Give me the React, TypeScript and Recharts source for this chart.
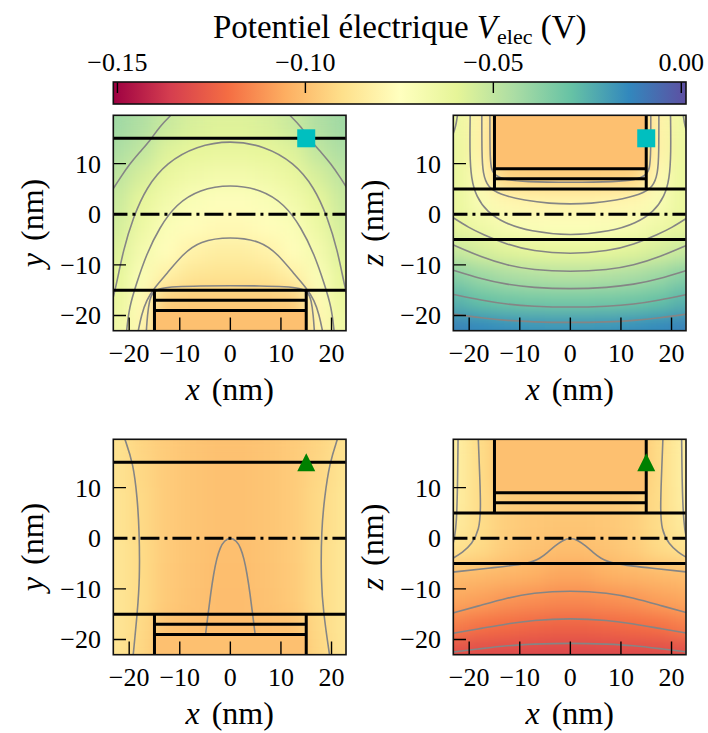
import React from "react";
import { ComposedChart, Scatter, XAxis, YAxis } from "recharts";

const FONT = '"Liberation Serif", "Times New Roman", serif';

// colour scale (V)
const V_MIN = -0.1511;
const V_MAX = 0.00125;
const CBAR_TICKS = [-0.15, -0.1, -0.05, 0];
const SPECTRAL = ["#9e0142", "#d53e4f", "#f46d43", "#fdae61", "#fee08b", "#ffffbf", "#e6f598", "#abdda4", "#66c2a5", "#3288bd", "#5e4fa2"];

// axes (nm)
const X_DOMAIN: [number, number] = [-23.2, 22.8];
const Y_DOMAIN: [number, number] = [-22.95, 19.6];
const X_TICKS = [-20, -10, 0, 10, 20];
const Y_TICKS = [-20, -10, 0, 10];

// sampling nodes of the potential maps (nm)
const GRID_X = [-22.5, -17.5, -12.5, -7.5, -2.5, 2.5, 7.5, 12.5, 17.5, 22.5];
const GRID_Y = [17.5, 12.5, 7.5, 2.5, -2.5, -7.5, -12.5, -17.5, -22.5];
const GATE_V = -0.1;

// potential maps in mV, one row per GRID_Y, one column per GRID_X
const MAP_XY_SQ = [
  [-42, -46, -52, -56, -57.5, -57.5, -56, -52, -46, -42],
  [-45, -50, -57.5, -60.5, -61.5, -61.5, -60.5, -57.5, -50, -45],
  [-49, -55.5, -62.5, -66, -67.5, -67.5, -66, -62.5, -55.5, -49],
  [-52, -61, -67, -71.5, -73.5, -73.5, -71.5, -67, -61, -52],
  [-54.5, -64, -71.8, -76, -78, -78, -76, -71.8, -64, -54.5],
  [-57, -68, -76, -81.5, -83.3, -83.3, -81.5, -76, -68, -57],
  [-59.5, -72, -82.5, -87.5, -88.5, -88.5, -87.5, -82.5, -72, -59.5],
  [-62, -77, -96, -97, -97, -97, -97, -96, -77, -62],
  [-65, -79, -100, -100, -100, -100, -100, -100, -79, -65],
];
const MAP_XZ_SQ = [
  [-64, -81, -100, -100, -100, -100, -100, -100, -81, -64],
  [-63, -81, -100, -100, -100, -100, -100, -100, -81, -63],
  [-62, -78, -94, -95, -95.5, -95.5, -95, -94, -78, -62],
  [-62, -71, -79, -80.5, -81, -81, -80.5, -79, -71, -62],
  [-61.5, -65.5, -70, -72, -73, -73, -72, -70, -65.5, -61.5],
  [-52, -55.5, -58.5, -60.5, -60.8, -60.8, -60.5, -58.5, -55.5, -52],
  [-36, -41, -44, -46, -47, -47, -46, -44, -41, -36],
  [-25, -29, -31, -32, -32.5, -32.5, -32, -31, -29, -25],
  [-12, -14, -15.5, -16.5, -17, -17, -16.5, -15.5, -14, -12],
];
const MAP_XY_TRI = [
  [-88.5, -93.5, -96.5, -98.5, -99.5, -99.5, -98.5, -96.5, -93.5, -88.5],
  [-88, -92.5, -96.5, -98.5, -99.5, -99.5, -98.5, -96.5, -92.5, -88],
  [-87.5, -92, -96.5, -98.5, -99.5, -99.5, -98.5, -96.5, -92, -87.5],
  [-87.5, -92, -96.5, -98.5, -99.7, -99.7, -98.5, -96.5, -92, -87.5],
  [-87, -91.5, -96.5, -98.8, -100.3, -100.3, -98.8, -96.5, -91.5, -87],
  [-87, -91.5, -96.8, -99, -100.6, -100.6, -99, -96.8, -91.5, -87],
  [-87, -91.5, -97, -99.2, -100.8, -100.8, -99.2, -97, -91.5, -87],
  [-87, -92, -99, -100, -100.5, -100.5, -100, -99, -92, -87],
  [-87.5, -93, -100, -100, -100, -100, -100, -100, -93, -87.5],
];
const MAP_XZ_TRI = [
  [-83, -91.5, -100, -100, -100, -100, -100, -100, -91.5, -83],
  [-83, -91.5, -100, -100, -100, -100, -100, -100, -91.5, -83],
  [-83.5, -91.5, -96, -97, -97, -97, -97, -96, -91.5, -83.5],
  [-85, -91, -95.5, -97.5, -98.5, -98.5, -97.5, -95.5, -91, -85],
  [-89, -92, -96.5, -99, -100.5, -100.5, -99, -96.5, -92, -89],
  [-101, -102, -103.3, -104.5, -107, -107, -104.5, -103.3, -102, -101],
  [-107, -109, -111.4, -113, -114, -114, -113, -111.4, -109, -107],
  [-116.7, -119.6, -121.1, -122.7, -123.5, -123.5, -122.7, -121.1, -119.6, -116.7],
  [-130, -131, -131.5, -132, -132.5, -132.5, -132, -131.5, -131, -130],
];

// iso-potential lines (every 10 mV), [x, y] in nm
const CONTOURS_XY_SQ = [
  [[-11.6, 19.7], [-14, 17.3], [-15.9, 14.5], [-18, 12.2], [-19.9, 9.9], [-21.5, 7.6], [-23.3, 4.8]],
  [[11.6, 19.7], [14, 17.3], [15.9, 14.5], [18, 12.2], [19.9, 9.9], [21.5, 7.6], [23.3, 4.8]],
  [[-23.3, -17], [-22.5, -13.8], [-21.2, -7.2], [-19.2, -0.6], [-16.6, 5.3], [-12.6, 10.2], [-6.7, 13.5], [0, 14.6], [6.7, 13.5], [12.6, 10.2], [16.6, 5.3], [19.2, -0.6], [21.2, -7.2], [22.5, -13.8], [23.3, -17]],
  [[-20.5, -23], [-20, -18.4], [-18.6, -13.8], [-16.6, -7.9], [-14, -2.6], [-10.7, 2.0], [-6.1, 4.9], [0, 5.9], [6.1, 4.9], [10.7, 2.0], [14, -2.6], [16.6, -7.9], [18.6, -13.8], [20, -18.4], [20.5, -23]],
  [[-18.2, -23], [-17.6, -20], [-16.6, -17], [-15, -14.5], [-12.6, -11.8], [-9.4, -7.9], [-6.1, -5.3], [0, -4.4], [6.1, -5.3], [9.4, -7.9], [12.6, -11.8], [15, -14.5], [16.6, -17], [17.6, -20], [18.2, -23]],
  [[-16.6, -23], [-16.4, -20], [-16.0, -17], [-15.4, -15.4], [-13.8, -14.6], [-11, -14.3], [-6, -14.15], [0, -14.1], [6, -14.15], [11, -14.3], [13.8, -14.6], [15.4, -15.4], [16.0, -17], [16.4, -20], [16.6, -23]],
];
const CONTOURS_XZ_SQ = [
  [[-15.9, 19.7], [-15.9, 12], [-15.7, 9], [-15, 7.7], [-13, 6.8], [-9, 6.4], [0, 6.26], [9, 6.4], [13, 6.8], [15, 7.7], [15.7, 9], [15.9, 12], [15.9, 19.7]],
  [[-17.5, 19.7], [-17.5, 12], [-17.3, 8], [-16.3, 5.3], [-14, 3.9], [-9, 2.7], [-4, 2.1], [0, 2.0], [4, 2.1], [9, 2.7], [14, 3.9], [16.3, 5.3], [17.3, 8], [17.5, 12], [17.5, 19.7]],
  [[-19.8, 19.7], [-19.9, 12], [-19.6, 7], [-18.6, 3.5], [-16.5, 0.5], [-13, -1.8], [-8, -3.4], [0, -4.3], [8, -3.4], [13, -1.8], [16.5, 0.5], [18.6, 3.5], [19.6, 7], [19.9, 12], [19.8, 19.7]],
  [[-22.3, 19.7], [-22.6, 17.5], [-23.3, 15.5]],
  [[22.3, 19.7], [22.6, 17.5], [23.3, 15.5]],
  [[-23.3, -0.6], [-20, -2.7], [-17.5, -3.9], [-12.5, -6], [-7.5, -7.3], [0, -7.9], [7.5, -7.3], [12.5, -6], [17.5, -3.9], [20, -2.7], [23.3, -0.6]],
  [[-23.3, -6], [-17.5, -8.5], [-12.5, -10.1], [-7.5, -11], [0, -11.4], [7.5, -11], [12.5, -10.1], [17.5, -8.5], [23.3, -6]],
  [[-23.3, -11], [-17.5, -12.8], [-12.5, -13.9], [-7.5, -14.5], [0, -14.8], [7.5, -14.5], [12.5, -13.9], [17.5, -12.8], [23.3, -11]],
  [[-23.3, -15.8], [-17.5, -17], [-12.5, -17.8], [-7.5, -18.2], [0, -18.4], [7.5, -18.2], [12.5, -17.8], [17.5, -17], [23.3, -15.8]],
  [[-23.3, -19.7], [-17.5, -20.5], [-12.5, -21], [-7.5, -21.3], [0, -21.4], [7.5, -21.3], [12.5, -21], [17.5, -20.5], [23.3, -19.7]],
];
const CONTOURS_XY_TRI = [
  [[-20.9, 19.7], [-19.2, 14.8], [-18.4, 8], [-18.0, 1.6], [-17.9, -8.2], [-18.4, -14.8], [-19.2, -23]],
  [[21.2, 19.7], [19.6, 14.8], [18.6, 8], [18.0, 1.6], [17.9, -8.2], [18.4, -14.8], [19.6, -23]],
  [[-4.9, -19], [-4.4, -15], [-3.9, -11], [-3.3, -7], [-2.7, -4], [-2.0, -1.8], [-1.2, -0.5], [0, 0.2], [1.2, -0.5], [2.0, -1.8], [2.7, -4], [3.3, -7], [3.9, -11], [4.4, -15], [4.9, -19]],
];
const CONTOURS_XZ_TRI = [
  [[-22.2, 19.7], [-22.3, 10], [-22.5, 3], [-22.9, 0], [-23.3, -1.5]],
  [[22.0, 19.7], [22.1, 10], [22.4, 3], [22.9, 0], [23.3, -1.5]],
  [[-18.2, 19.7], [-17.9, 12], [-17.7, 6], [-18.0, 1.6], [-19.5, -1.2], [-21.3, -2.8], [-23.3, -4]],
  [[18.3, 19.7], [18.0, 12], [17.8, 6], [18.0, 1.6], [19.5, -1.2], [21.3, -2.8], [23.3, -4]],
  [[-23.3, -6.7], [-15, -5.8], [-8, -5], [-6, -4], [-4.5, -2.8], [-3, -1.5], [-1.5, -0.4], [0, 0.1], [1.5, -0.4], [3, -1.5], [4.5, -2.8], [6, -4], [8, -5], [15, -5.8], [23.3, -6.7]],
  [[-23.3, -14.8], [-17.5, -13.2], [-12.5, -11.8], [-7.5, -10.8], [0, -10.3], [7.5, -10.8], [12.5, -11.8], [17.5, -13.2], [23.3, -14.8]],
  [[-23.3, -18.8], [-17.5, -17.8], [-12.5, -16.9], [-7.5, -16.2], [0, -15.8], [7.5, -16.2], [12.5, -16.9], [17.5, -17.8], [23.3, -18.8]],
  [[-23.3, -22.5], [-17.5, -21.8], [-12.5, -21.2], [-7.5, -20.9], [0, -20.7], [7.5, -20.9], [12.5, -21.2], [17.5, -21.8], [23.3, -22.5]],
];

// device outline (nm): solid interfaces and the mid-plane
const XY_OUTLINE = [
  [[-24, 15], [24, 15]],
  [[-24, -15], [24, -15]],
  [[-15, -15], [-15, -24]],
  [[15, -15], [15, -24]],
  [[-15, -17], [15, -17]],
  [[-15, -19], [15, -19]],
];
const XZ_OUTLINE = [
  [[-24, 5], [24, 5]],
  [[-24, -5], [24, -5]],
  [[-15, 5], [-15, 21]],
  [[15, 5], [15, 21]],
  [[-15, 9], [15, 9]],
  [[-15, 7], [15, 7]],
];
const MID_PLANE = [[-24.1, 0], [24, 0]];
const GATE_XY = [{ x: 0, y: -19 }];
const GATE_XZ = [{ x: 0, y: 9 }];
const PROBE = [{ x: 15, y: 15 }];

// layout (px)
const PLOT_W = 232.7;
const PLOT_H = 215.4;
const ML = 110, MR = 12, MT = 12, MB = 45;
const TICK_LEN = 13;
const TICK_FONT = 26;
const PX_X = PLOT_W / (X_DOMAIN[1] - X_DOMAIN[0]);
const PX_Y = PLOT_H / (Y_DOMAIN[1] - Y_DOMAIN[0]);
const CELL_W = (GRID_X[1] - GRID_X[0]) * PX_X + 1;
const CELL_H = (GRID_Y[0] - GRID_Y[1]) * PX_Y + 1;
const PANELS = [
  { left: 113.3, top: 115.3 },
  { left: 453.3, top: 115.3 },
  { left: 113.3, top: 439.3 },
  { left: 453.3, top: 439.3 },
];
const CB = { left: 113.3, top: 82, width: 572.7, height: 22 };

const hexRgb = (h: string) => [1, 3, 5].map((i) => parseInt(h.slice(i, i + 2), 16));
function spectral(v: number) {
  let t = (v - V_MIN) / (V_MAX - V_MIN);
  t = Math.max(0, Math.min(1, t));
  const p = t * 10;
  const i = Math.min(9, Math.floor(p));
  const f = p - i;
  const a = hexRgb(SPECTRAL[i]);
  const b = hexRgb(SPECTRAL[i + 1]);
  const c = a.map((ai, k) => Math.round(ai + (b[k] - ai) * f));
  return `rgb(${c[0]},${c[1]},${c[2]})`;
}

const minus = (s: string) => s.replace("-", "\u2212");

const XTick = ({ x, y, payload }: any) => (
  <text x={x} y={y + 32} textAnchor="middle" fontSize={TICK_FONT} fontFamily={FONT} fill="#000">
    {minus(String(payload.value))}
  </text>
);

const YTick = ({ x, y, payload }: any) => (
  <text x={x - 12} y={y + 9} textAnchor="end" fontSize={TICK_FONT} fontFamily={FONT} fill="#000">
    {minus(String(payload.value))}
  </text>
);

const CbarTick = ({ x, y, payload }: any) => (
  <text x={x} y={y - 11.5} textAnchor="middle" fontSize={TICK_FONT} fontFamily={FONT} fill="#000">
    {minus(Number(payload.value).toFixed(2))}
  </text>
);

const HeatCell = (p: any) => (
  <rect x={p.cx - CELL_W / 2} y={p.cy - CELL_H / 2} width={CELL_W} height={CELL_H} fill={spectral(p.payload.v)} />
);
// gate metal: 30 nm wide, from the anchor point out to the plot edge
const GateBelow = (p: any) => (
  <rect x={p.cx - 15 * PX_X} y={p.cy} width={30 * PX_X} height={6 * PX_Y} fill={spectral(GATE_V)} />
);
const GateAbove = (p: any) => (
  <rect x={p.cx - 15 * PX_X} y={p.cy - 14 * PX_Y} width={30 * PX_X} height={14 * PX_Y} fill={spectral(GATE_V)} />
);
const CbarRect = (p: any) => (
  <rect x={p.cx} y={p.cy} width={CB.width} height={CB.height} fill="url(#spectralGrad)" />
);
const NoDot = () => <g />;
const Square = (p: any) => <rect x={p.cx - 9} y={p.cy - 9} width={18} height={18} fill="#00bfbf" />;
const Triangle = (p: any) => (
  <polygon points={`${p.cx},${p.cy - 9} ${p.cx - 9},${p.cy + 9} ${p.cx + 9},${p.cy + 9}`} fill="#008000" />
);

const toPts = (pts: number[][]) => pts.map(([x, y]) => ({ x, y }));

// inward tick marks, drawn through the axis scales
const X_TICK_MARKS = X_TICKS.map((t) => [[t, Y_DOMAIN[0]], [t, Y_DOMAIN[0] + TICK_LEN / PX_Y]]);
const Y_TICK_MARKS = Y_TICKS.map((t) => [[X_DOMAIN[0], t], [X_DOMAIN[0] + TICK_LEN / PX_X, t]]);

interface PanelProps {
  index: number;
  map: number[][];
  contours: number[][][];
  plane: "xy" | "xz";
  marker: "square" | "triangle";
}

function Panel({ index, map, contours, plane, marker }: PanelProps) {
  const { left, top } = PANELS[index];
  const cells = GRID_Y.flatMap((y, i) => GRID_X.map((x, j) => ({ x, y, v: map[i][j] / 1000 })));
  const outline = plane === "xy" ? XY_OUTLINE : XZ_OUTLINE;
  return (
    <div style={{ position: "absolute", left: left - ML, top: top - MT }}>
      <ComposedChart
        width={ML + PLOT_W + MR}
        height={MT + PLOT_H + MB}
        margin={{ top: MT, right: MR, bottom: MB - 1, left: ML - 1 }}
      >
        <Scatter className="heat" data={cells} shape={HeatCell} isAnimationActive={false} />
        <Scatter
          data={plane === "xy" ? GATE_XY : GATE_XZ}
          shape={plane === "xy" ? GateBelow : GateAbove}
          isAnimationActive={false}
        />
        {contours.map((pts, k) => (
          <Scatter
            key={"c" + k}
            data={toPts(pts)}
            line={{ stroke: "#858585", strokeWidth: 1.6 }}
            lineJointType="basis"
            shape={NoDot}
            isAnimationActive={false}
          />
        ))}
        {outline.map((pts, k) => (
          <Scatter
            key={"o" + k}
            data={toPts(pts)}
            line={{ stroke: "#000", strokeWidth: 3 }}
            shape={NoDot}
            isAnimationActive={false}
          />
        ))}
        <Scatter
          data={toPts(MID_PLANE)}
          line={{ stroke: "#000", strokeWidth: 3, strokeDasharray: "19 5 3 5" }}
          shape={NoDot}
          isAnimationActive={false}
        />
        {[...X_TICK_MARKS, ...Y_TICK_MARKS].map((pts, k) => (
          <Scatter
            key={"t" + k}
            data={toPts(pts)}
            line={{ stroke: "#000", strokeWidth: 1.4 }}
            shape={NoDot}
            isAnimationActive={false}
          />
        ))}
        <Scatter data={PROBE} shape={marker === "square" ? Square : Triangle} isAnimationActive={false} />
        <XAxis
          type="number"
          dataKey="x"
          domain={X_DOMAIN}
          allowDataOverflow
          ticks={X_TICKS}
          interval={0}
          height={1}
          tickSize={0}
          tickMargin={0}
          axisLine={false}
          tickLine={false}
          tick={(p: any) => <XTick {...p} />}
        />
        <YAxis
          type="number"
          dataKey="y"
          domain={Y_DOMAIN}
          allowDataOverflow
          ticks={Y_TICKS}
          interval={0}
          width={1}
          tickSize={0}
          tickMargin={0}
          axisLine={false}
          tickLine={false}
          tick={(p: any) => <YTick {...p} />}
        />
      </ComposedChart>
    </div>
  );
}

const CBAR_ORIGIN = [{ x: V_MIN, y: 1 }];
const CBAR_TICK_MARKS = CBAR_TICKS.map((t) => [[t, 1], [t, 0.5]]);

function ColorBar() {
  return (
    <div style={{ position: "absolute", left: 0, top: 0 }}>
      <ComposedChart
        width={708}
        height={112}
        margin={{ top: CB.top - 1, right: 708 - CB.left - CB.width, bottom: 112 - CB.top - CB.height, left: CB.left }}
      >
        <Scatter data={CBAR_ORIGIN} shape={CbarRect} isAnimationActive={false} />
        {CBAR_TICK_MARKS.map((pts, k) => (
          <Scatter
            key={k}
            data={toPts(pts)}
            line={{ stroke: "#000", strokeWidth: 1.4 }}
            shape={NoDot}
            isAnimationActive={false}
          />
        ))}
        <YAxis type="number" dataKey="y" domain={[0, 1]} allowDataOverflow hide />
        <XAxis
          type="number"
          dataKey="x"
          orientation="top"
          domain={[V_MIN, V_MAX]}
          allowDataOverflow
          ticks={CBAR_TICKS}
          interval={0}
          height={1}
          tickSize={0}
          tickMargin={0}
          axisLine={false}
          tickLine={false}
          tick={(p: any) => <CbarTick {...p} />}
        />
      </ComposedChart>
    </div>
  );
}

const AxisLabel = ({ x, y, name, rotate }: { x: number; y: number; name: string; rotate?: boolean }) => (
  <text
    x={x}
    y={y}
    textAnchor="middle"
    fontSize={32}
    fontFamily={FONT}
    wordSpacing={4}
    transform={rotate ? `rotate(-90 ${x} ${y})` : undefined}
  >
    <tspan fontStyle="italic">{name}</tspan> (nm)
  </text>
);

export default function App() {
  return (
    <div style={{ position: "absolute", left: 0, top: 0, width: 708, height: 733, background: "#fff" }}>
      <style>{`.heat { filter: url(#smooth); }`}</style>
      <svg width={0} height={0} style={{ position: "absolute" }}>
        <defs>
          <linearGradient id="spectralGrad" x1="0" y1="0" x2="1" y2="0">
            {SPECTRAL.map((c, i) => (
              <stop key={i} offset={i / 10} stopColor={c} />
            ))}
          </linearGradient>
          <filter id="smooth" x="-20%" y="-20%" width="140%" height="140%" colorInterpolationFilters="sRGB">
            <feGaussianBlur stdDeviation="9" />
            <feComponentTransfer>
              <feFuncA type="linear" slope="4" intercept="0" />
            </feComponentTransfer>
          </filter>
        </defs>
      </svg>
      <ColorBar />
      <Panel index={0} map={MAP_XY_SQ} contours={CONTOURS_XY_SQ} plane="xy" marker="square" />
      <Panel index={1} map={MAP_XZ_SQ} contours={CONTOURS_XZ_SQ} plane="xz" marker="square" />
      <Panel index={2} map={MAP_XY_TRI} contours={CONTOURS_XY_TRI} plane="xy" marker="triangle" />
      <Panel index={3} map={MAP_XZ_TRI} contours={CONTOURS_XZ_TRI} plane="xz" marker="triangle" />
      <svg width={708} height={733} style={{ position: "absolute", left: 0, top: 0, pointerEvents: "none" }}>
        <rect x={CB.left} y={CB.top} width={CB.width} height={CB.height} fill="none" stroke="#111" strokeWidth={1.6} />
        {PANELS.map((p, i) => (
          <rect key={i} x={p.left} y={p.top} width={PLOT_W} height={PLOT_H} fill="none" stroke="#111" strokeWidth={1.6} />
        ))}
        <text x={399.7} y={38} textAnchor="middle" fontSize={33} fontFamily={FONT}>
          Potentiel électrique <tspan fontStyle="italic">V</tspan>
          <tspan fontSize={22} dy={6}>elec</tspan>
          <tspan dy={-6}> (V)</tspan>
        </text>
        <AxisLabel x={229.7} y={400} name="x" />
        <AxisLabel x={569.7} y={400} name="x" />
        <AxisLabel x={229.7} y={724} name="x" />
        <AxisLabel x={569.7} y={724} name="x" />
        <AxisLabel x={43} y={223} name="y" rotate />
        <AxisLabel x={383} y={223} name="z" rotate />
        <AxisLabel x={43} y={547} name="y" rotate />
        <AxisLabel x={383} y={547} name="z" rotate />
      </svg>
    </div>
  );
}
